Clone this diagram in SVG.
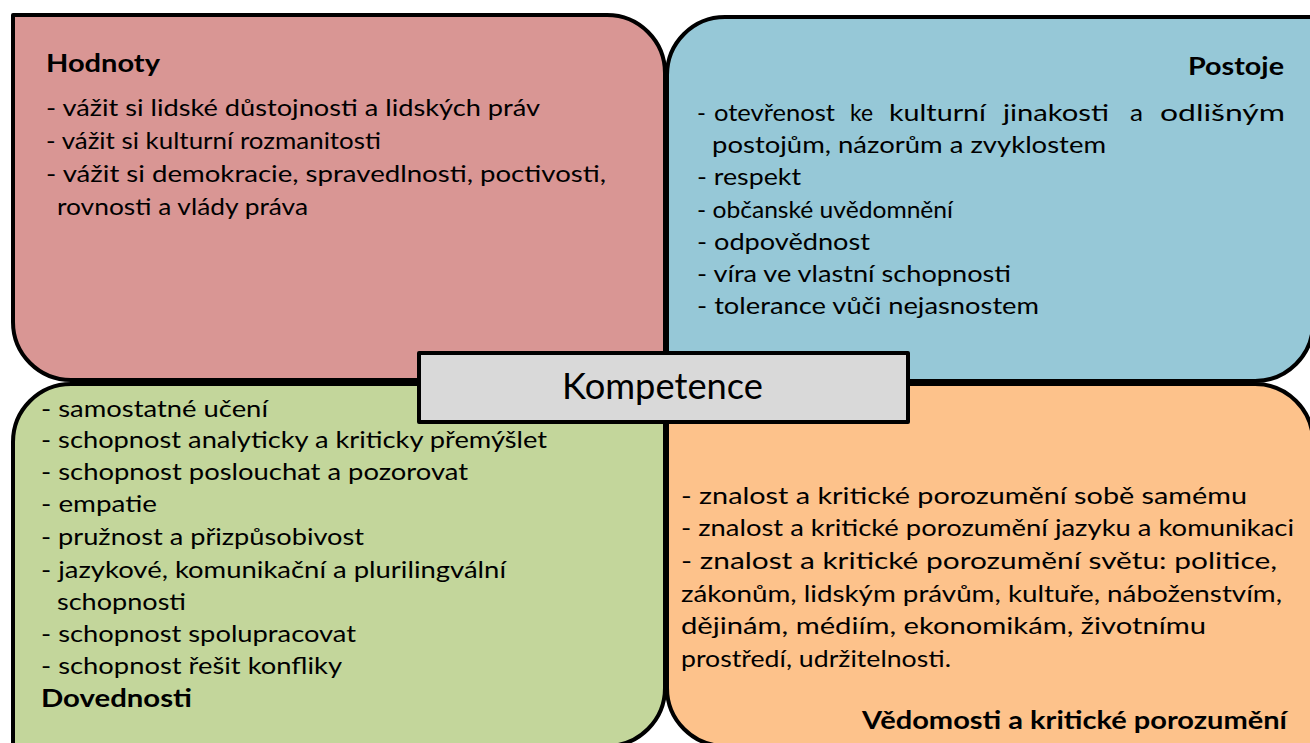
<svg xmlns="http://www.w3.org/2000/svg" width="1310" height="743" viewBox="0 0 1310 743">
<style>
.box{stroke:#000;stroke-width:4;stroke-linejoin:round}
.t{font-family:Lato,"Noto Sans","DejaVu Sans",sans-serif;font-size:24px;fill:#000}
.b{font-weight:bold}
.k{font-family:Lato,"Noto Sans","DejaVu Sans",sans-serif;font-size:36px;fill:#000}
</style>
<rect width="1310" height="743" fill="#fff"/>
<g id="hodnoty">
<path class="box" fill="#d99694" d="M13,15 H607 A58,58 0 0 1 665,73 V380 H71 A58,58 0 0 1 13,322 Z"/>
<text class="t b" x="46" y="72" textLength="114" lengthAdjust="spacingAndGlyphs">Hodnoty</text>
<text class="t" x="46" y="116" textLength="494" lengthAdjust="spacingAndGlyphs">- vážit si lidské důstojnosti a lidských práv</text>
<text class="t" x="46" y="149" textLength="335" lengthAdjust="spacingAndGlyphs">- vážit si kulturní rozmanitosti</text>
<text class="t" x="46" y="182" textLength="560" lengthAdjust="spacingAndGlyphs">- vážit si demokracie, spravedlnosti, poctivosti,</text>
<text class="t" x="57" y="215" textLength="251" lengthAdjust="spacingAndGlyphs">rovnosti a vlády práva</text>
</g>
<g id="postoje">
<path class="box" fill="#96c8d7" d="M725,17 H1313 V323 A58,58 0 0 1 1255,381 H667 V75 A58,58 0 0 1 725,17 Z"/>
<text class="t b" x="1188" y="75" textLength="96" lengthAdjust="spacingAndGlyphs">Postoje</text>
<text class="t" x="697" y="121">-</text>
<text class="t" x="714" y="121" textLength="121" lengthAdjust="spacingAndGlyphs">otevřenost</text>
<text class="t" x="850" y="121" textLength="23" lengthAdjust="spacingAndGlyphs">ke</text>
<text class="t" x="889" y="121" textLength="97" lengthAdjust="spacingAndGlyphs">kulturní</text>
<text class="t" x="1003" y="121" textLength="106" lengthAdjust="spacingAndGlyphs">jinakosti</text>
<text class="t" x="1130" y="121" textLength="13" lengthAdjust="spacingAndGlyphs">a</text>
<text class="t" x="1160" y="121" textLength="125" lengthAdjust="spacingAndGlyphs">odlišným</text>
<text class="t" x="712" y="153" textLength="394" lengthAdjust="spacingAndGlyphs">postojům, názorům a zvyklostem</text>
<text class="t" x="697" y="185" textLength="104" lengthAdjust="spacingAndGlyphs">- respekt</text>
<text class="t" x="697" y="218" textLength="256" lengthAdjust="spacingAndGlyphs">- občanské uvědomnění</text>
<text class="t" x="697" y="250" textLength="173" lengthAdjust="spacingAndGlyphs">- odpovědnost</text>
<text class="t" x="697" y="282" textLength="314" lengthAdjust="spacingAndGlyphs">- víra ve vlastní schopnosti</text>
<text class="t" x="697" y="314" textLength="342" lengthAdjust="spacingAndGlyphs">- tolerance vůči nejasnostem</text>
</g>
<g id="dovednosti">
<path class="box" fill="#c3d69b" d="M71,384 H665 V688 A58,58 0 0 1 607,746 H13 V442 A58,58 0 0 1 71,384 Z"/>
<text class="t" x="41" y="417" textLength="227" lengthAdjust="spacingAndGlyphs">- samostatné učení</text>
<text class="t" x="41" y="448" textLength="506" lengthAdjust="spacingAndGlyphs">- schopnost analyticky a kriticky přemýšlet</text>
<text class="t" x="41" y="480" textLength="427" lengthAdjust="spacingAndGlyphs">- schopnost poslouchat a pozorovat</text>
<text class="t" x="41" y="512" textLength="116" lengthAdjust="spacingAndGlyphs">- empatie</text>
<text class="t" x="41" y="545" textLength="323" lengthAdjust="spacingAndGlyphs">- pružnost a přizpůsobivost</text>
<text class="t" x="41" y="578" textLength="465" lengthAdjust="spacingAndGlyphs">- jazykové, komunikační a plurilingvální</text>
<text class="t" x="57" y="610" textLength="129" lengthAdjust="spacingAndGlyphs">schopnosti</text>
<text class="t" x="41" y="642" textLength="315" lengthAdjust="spacingAndGlyphs">- schopnost spolupracovat</text>
<text class="t" x="41" y="674" textLength="301" lengthAdjust="spacingAndGlyphs">- schopnost řešit konfliky</text>
<text class="t b" x="41" y="707" textLength="151" lengthAdjust="spacingAndGlyphs">Dovednosti</text>
</g>
<g id="vedomosti">
<path class="box" fill="#fdc28b" d="M667,384 H1255 A58,58 0 0 1 1313,442 V746 H725 A58,58 0 0 1 667,688 Z"/>
<text class="t" x="681" y="504" textLength="566" lengthAdjust="spacingAndGlyphs">- znalost a kritické porozumění sobě samému</text>
<text class="t" x="681" y="536" textLength="613" lengthAdjust="spacingAndGlyphs">- znalost a kritické porozumění jazyku a komunikaci</text>
<text class="t" x="681" y="569" textLength="596" lengthAdjust="spacingAndGlyphs">- znalost a kritické porozumění světu: politice,</text>
<text class="t" x="681" y="602" textLength="601" lengthAdjust="spacingAndGlyphs">zákonům, lidským právům, kultuře, náboženstvím,</text>
<text class="t" x="681" y="634" textLength="525" lengthAdjust="spacingAndGlyphs">dějinám, médiím, ekonomikám, životnímu</text>
<text class="t" x="681" y="667" textLength="270" lengthAdjust="spacingAndGlyphs">prostředí, udržitelnosti.</text>
<text class="t b" x="862" y="729" textLength="425" lengthAdjust="spacingAndGlyphs">Vědomosti a kritické porozumění</text>
</g>
<g id="kompetence">
<rect class="box" fill="#d9d9d9" x="419" y="353" width="489" height="69"/>
<text class="k" x="562" y="399" textLength="201" lengthAdjust="spacingAndGlyphs">Kompetence</text>
</g>
<g id="connectors"/>
</svg>
